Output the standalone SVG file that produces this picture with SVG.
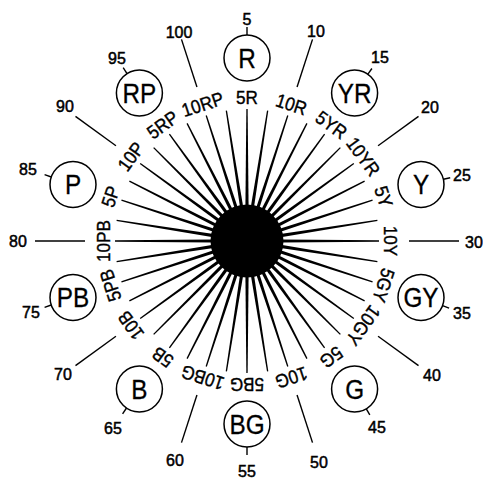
<svg xmlns="http://www.w3.org/2000/svg" xmlns:xlink="http://www.w3.org/1999/xlink" width="483" height="479" viewBox="0 0 483 479">
<style>
.lbl{font-family:"Liberation Sans",Arial,sans-serif;font-size:19px;fill:#000;stroke:#000;stroke-width:0.4;text-anchor:middle}
.num{font-family:"Liberation Sans",Arial,sans-serif;font-size:16px;fill:#000;stroke:#000;stroke-width:0.5;text-anchor:middle}
.hue{font-family:"Liberation Sans",Arial,sans-serif;font-size:27px;fill:#000;stroke:#000;stroke-width:0.3;text-anchor:middle}
.ring{fill:#fff;stroke:#000;stroke-width:1.5}
.tick{stroke:#000;stroke-width:1.4;fill:none}
</style>
<defs>
<path id="sp" d="M245.4,207 L248.6,207 L247.65,109 L246.35,109 Z" fill="#000"/>
<line id="ln" x1="247" y1="79" x2="247" y2="29" stroke="#000" stroke-width="1.4"/>
</defs>
<rect width="483" height="479" fill="#fff"/>
<g id="connectors">
<use xlink:href="#sp" transform="rotate(0 247 241)"/>
<use xlink:href="#sp" transform="rotate(9 247 241)"/>
<use xlink:href="#sp" transform="rotate(18 247 241)"/>
<use xlink:href="#sp" transform="rotate(27 247 241)"/>
<use xlink:href="#sp" transform="rotate(36 247 241)"/>
<use xlink:href="#sp" transform="rotate(45 247 241)"/>
<use xlink:href="#sp" transform="rotate(54 247 241)"/>
<use xlink:href="#sp" transform="rotate(63 247 241)"/>
<use xlink:href="#sp" transform="rotate(72 247 241)"/>
<use xlink:href="#sp" transform="rotate(81 247 241)"/>
<use xlink:href="#sp" transform="rotate(90 247 241)"/>
<use xlink:href="#sp" transform="rotate(99 247 241)"/>
<use xlink:href="#sp" transform="rotate(108 247 241)"/>
<use xlink:href="#sp" transform="rotate(117 247 241)"/>
<use xlink:href="#sp" transform="rotate(126 247 241)"/>
<use xlink:href="#sp" transform="rotate(135 247 241)"/>
<use xlink:href="#sp" transform="rotate(144 247 241)"/>
<use xlink:href="#sp" transform="rotate(153 247 241)"/>
<use xlink:href="#sp" transform="rotate(162 247 241)"/>
<use xlink:href="#sp" transform="rotate(171 247 241)"/>
<use xlink:href="#sp" transform="rotate(180 247 241)"/>
<use xlink:href="#sp" transform="rotate(189 247 241)"/>
<use xlink:href="#sp" transform="rotate(198 247 241)"/>
<use xlink:href="#sp" transform="rotate(207 247 241)"/>
<use xlink:href="#sp" transform="rotate(216 247 241)"/>
<use xlink:href="#sp" transform="rotate(225 247 241)"/>
<use xlink:href="#sp" transform="rotate(234 247 241)"/>
<use xlink:href="#sp" transform="rotate(243 247 241)"/>
<use xlink:href="#sp" transform="rotate(252 247 241)"/>
<use xlink:href="#sp" transform="rotate(261 247 241)"/>
<use xlink:href="#sp" transform="rotate(270 247 241)"/>
<use xlink:href="#sp" transform="rotate(279 247 241)"/>
<use xlink:href="#sp" transform="rotate(288 247 241)"/>
<use xlink:href="#sp" transform="rotate(297 247 241)"/>
<use xlink:href="#sp" transform="rotate(306 247 241)"/>
<use xlink:href="#sp" transform="rotate(315 247 241)"/>
<use xlink:href="#sp" transform="rotate(324 247 241)"/>
<use xlink:href="#sp" transform="rotate(333 247 241)"/>
<use xlink:href="#sp" transform="rotate(342 247 241)"/>
<use xlink:href="#sp" transform="rotate(351 247 241)"/>
<use xlink:href="#ln" transform="rotate(18 247 241)"/>
<use xlink:href="#ln" transform="rotate(54 247 241)"/>
<use xlink:href="#ln" transform="rotate(90 247 241)"/>
<use xlink:href="#ln" transform="rotate(126 247 241)"/>
<use xlink:href="#ln" transform="rotate(162 247 241)"/>
<use xlink:href="#ln" transform="rotate(198 247 241)"/>
<use xlink:href="#ln" transform="rotate(234 247 241)"/>
<use xlink:href="#ln" transform="rotate(270 247 241)"/>
<use xlink:href="#ln" transform="rotate(306 247 241)"/>
<use xlink:href="#ln" transform="rotate(342 247 241)"/>
<line class="tick" x1="247" y1="35" x2="247" y2="27"/>
<line class="tick" x1="367.9" y1="74.2" x2="371.9" y2="68.5"/>
<line class="tick" x1="443.4" y1="179.3" x2="450.2" y2="177.7"/>
<line class="tick" x1="442.5" y1="305.6" x2="449.1" y2="308.1"/>
<line class="tick" x1="366.3" y1="408.8" x2="369.8" y2="414.9"/>
<line class="tick" x1="247" y1="447" x2="247" y2="455"/>
<line class="tick" x1="126.5" y1="408" x2="122.6" y2="413.8"/>
<line class="tick" x1="51.2" y1="305" x2="44.6" y2="307.3"/>
<line class="tick" x1="51.3" y1="177" x2="44.6" y2="174.7"/>
<line class="tick" x1="127" y1="73.6" x2="123.2" y2="67.7"/>
</g>
<circle id="hub" cx="247" cy="241" r="36.5" fill="#000"/>
<g id="hue-labels">
<text class="lbl" transform="rotate(0 247 241) translate(247 104) scale(0.9 1)">5R</text>
<text class="lbl" transform="rotate(18 247 241) translate(247 104) scale(0.9 1)">10R</text>
<text class="lbl" transform="rotate(36 247 241) translate(247 104) scale(0.9 1)">5YR</text>
<text class="lbl" transform="rotate(54 247 241) translate(247 104) scale(0.9 1)">10YR</text>
<text class="lbl" transform="rotate(72 247 241) translate(247 104) scale(0.9 1)">5Y</text>
<text class="lbl" transform="rotate(90 247 241) translate(247 104) scale(0.9 1)">10Y</text>
<text class="lbl" transform="rotate(108 247 241) translate(247 104) scale(0.9 1)">5GY</text>
<text class="lbl" transform="rotate(126 247 241) translate(247 104) scale(0.9 1)">10GY</text>
<text class="lbl" transform="rotate(144 247 241) translate(247 104) scale(0.9 1)">5G</text>
<text class="lbl" transform="rotate(162 247 241) translate(247 104) scale(0.9 1)">10G</text>
<text class="lbl" transform="rotate(180 247 241) translate(247 104) scale(0.9 1)">5BG</text>
<text class="lbl" transform="rotate(198 247 241) translate(247 104) scale(0.9 1)">10BG</text>
<text class="lbl" transform="rotate(216 247 241) translate(247 104) scale(0.9 1)">5B</text>
<text class="lbl" transform="rotate(234 247 241) translate(247 104) scale(0.9 1)">10B</text>
<text class="lbl" transform="rotate(252 247 241) translate(247 104) scale(0.9 1)">5PB</text>
<text class="lbl" transform="rotate(270 247 241) translate(247 104) scale(0.9 1)">10PB</text>
<text class="lbl" transform="rotate(288 247 241) translate(247 104) scale(0.9 1)">5P</text>
<text class="lbl" transform="rotate(306 247 241) translate(247 104) scale(0.9 1)">10P</text>
<text class="lbl" transform="rotate(324 247 241) translate(247 104) scale(0.9 1)">5RP</text>
<text class="lbl" transform="rotate(342 247 241) translate(247 104) scale(0.9 1)">10RP</text>
</g>
<g id="node-R"><circle class="ring" cx="247" cy="58" r="23"/><text class="hue" transform="translate(247 67.5) scale(0.9 1)">R</text></g>
<g id="node-YR"><circle class="ring" cx="354.6" cy="93" r="23"/><text class="hue" transform="translate(354.6 102.5) scale(0.9 1)">YR</text></g>
<g id="node-Y"><circle class="ring" cx="421" cy="184.5" r="23"/><text class="hue" transform="translate(421 194) scale(0.9 1)">Y</text></g>
<g id="node-GY"><circle class="ring" cx="421" cy="297.5" r="23"/><text class="hue" transform="translate(421 307) scale(0.9 1)">GY</text></g>
<g id="node-G"><circle class="ring" cx="354.6" cy="389" r="23"/><text class="hue" transform="translate(354.6 398.5) scale(0.9 1)">G</text></g>
<g id="node-BG"><circle class="ring" cx="247" cy="424" r="23"/><text class="hue" transform="translate(247 433.5) scale(0.9 1)">BG</text></g>
<g id="node-B"><circle class="ring" cx="139.4" cy="389" r="23"/><text class="hue" transform="translate(139.4 398.5) scale(0.9 1)">B</text></g>
<g id="node-PB"><circle class="ring" cx="73" cy="297.5" r="23"/><text class="hue" transform="translate(73 307) scale(0.9 1)">PB</text></g>
<g id="node-P"><circle class="ring" cx="73" cy="184.5" r="23"/><text class="hue" transform="translate(73 194) scale(0.9 1)">P</text></g>
<g id="node-RP"><circle class="ring" cx="139.4" cy="93" r="23"/><text class="hue" transform="translate(139.4 102.5) scale(0.9 1)">RP</text></g>
<g id="numbers">
<text class="num" x="247" y="24.7">5</text>
<text class="num" x="316" y="36.7">10</text>
<text class="num" x="380" y="62.7">15</text>
<text class="num" x="430" y="112.7">20</text>
<text class="num" x="462" y="180.7">25</text>
<text class="num" x="474" y="247.7">30</text>
<text class="num" x="462" y="318.7">35</text>
<text class="num" x="432" y="380.7">40</text>
<text class="num" x="377" y="432.7">45</text>
<text class="num" x="319" y="467.7">50</text>
<text class="num" x="247" y="476.7">55</text>
<text class="num" x="175" y="465.7">60</text>
<text class="num" x="113" y="433.7">65</text>
<text class="num" x="63" y="379.7">70</text>
<text class="num" x="31" y="317.7">75</text>
<text class="num" x="18" y="246.7">80</text>
<text class="num" x="28" y="174.7">85</text>
<text class="num" x="65" y="111.7">90</text>
<text class="num" x="117" y="63.7">95</text>
<text class="num" x="179" y="37.7">100</text>
</g>
</svg>
